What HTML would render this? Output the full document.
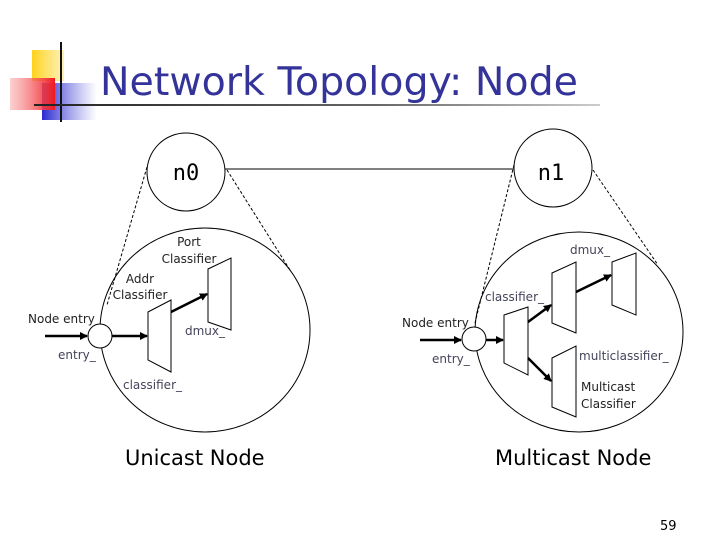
<!DOCTYPE html>
<html><head><meta charset="utf-8"><style>
body{margin:0;background:#fff;}
svg{display:block;}
text{font-family:"DejaVu Sans","Liberation Sans",sans-serif;}
</style></head><body>
<svg width="720" height="540" viewBox="0 0 720 540" xmlns="http://www.w3.org/2000/svg">
<defs>
<linearGradient id="yel" x1="0" x2="1"><stop offset="0" stop-color="#ffd21a"/><stop offset="1" stop-color="#ffe680" stop-opacity="0.6"/></linearGradient>
<linearGradient id="red" x1="1" x2="0"><stop offset="0" stop-color="#f01820"/><stop offset="1" stop-color="#f8a0a0" stop-opacity="0.5"/></linearGradient>
<linearGradient id="blu" x1="0" x2="1"><stop offset="0" stop-color="#2a2ad0"/><stop offset="1" stop-color="#6060e0" stop-opacity="0"/></linearGradient>
<linearGradient id="ln" x1="0" x2="1"><stop offset="0" stop-color="#222"/><stop offset="0.6" stop-color="#666"/><stop offset="1" stop-color="#ccc"/></linearGradient>
<marker id="ar" markerWidth="8" markerHeight="8" refX="7" refY="4" orient="auto" markerUnits="userSpaceOnUse"><path d="M0,0 L8,4 L0,8 z" fill="#000"/></marker>
</defs>
<rect x="32" y="50" width="32" height="31" fill="url(#yel)"/>
<rect x="42" y="83" width="55" height="37" fill="url(#blu)"/>
<rect x="10" y="78" width="45" height="32" fill="url(#red)"/>
<line x1="61" y1="42" x2="61" y2="122" stroke="#111" stroke-width="2"/>
<rect x="34" y="104" width="566" height="2" fill="url(#ln)"/>
<text x="100" y="95" font-size="39.5" fill="#333399">Network Topology: Node</text>

<g fill="none" stroke="#000" stroke-width="1">
<circle cx="186" cy="172" r="39"/>
<circle cx="553" cy="168" r="39"/>
<line x1="225" y1="169" x2="514" y2="169"/>
<ellipse cx="205" cy="330" rx="105" ry="102"/>
<ellipse cx="579" cy="332" rx="104" ry="100"/>
<g stroke-dasharray="3,2">
<line x1="147" y1="167" x2="107" y2="305"/>
<line x1="227" y1="170" x2="290" y2="270"/>
<line x1="514" y1="165" x2="475" y2="323"/>
<line x1="593" y1="170" x2="658" y2="265"/>
</g>
</g>
<g fill="#fff" stroke="#000" stroke-width="1">
<circle cx="100" cy="336" r="12"/>
<polygon points="148,312 171,300 171,372 148,360"/>
<polygon points="208,269 231,258 231,330 208,322"/>
<circle cx="474" cy="339" r="12"/>
<polygon points="504,315 528,307 528,375 504,363"/>
<polygon points="552,273 576,262 576,333 552,323"/>
<polygon points="612,262 636,253 636,315 612,305"/>
<polygon points="552,358 576,346 576,417 552,407"/>
</g>
<g stroke="#000" stroke-width="2.5" marker-end="url(#ar)">
<line x1="45" y1="336" x2="87" y2="336"/>
<line x1="112" y1="336" x2="147" y2="336"/>
<line x1="171" y1="312" x2="207" y2="294"/>
<line x1="420" y1="340" x2="461" y2="340"/>
<line x1="486" y1="340" x2="503" y2="340"/>
<line x1="528" y1="322" x2="551" y2="305"/>
<line x1="576" y1="292" x2="611" y2="275"/>
<line x1="528" y1="358" x2="551" y2="381"/>
</g>
<g font-size="12">
<text x="189" y="246" text-anchor="middle" fill="#222">Port</text>
<text x="189" y="263" text-anchor="middle" fill="#222">Classifier</text>
<text x="140" y="283" text-anchor="middle" fill="#222">Addr</text>
<text x="140" y="299" text-anchor="middle" fill="#222">Classifier</text>
<text x="28" y="323" fill="#222">Node entry</text>
<text x="185" y="335" fill="#44445a">dmux_</text>
<text x="58" y="359" fill="#44445a">entry_</text>
<text x="123" y="389" fill="#44445a">classifier_</text>
<text x="570" y="254" fill="#44445a">dmux_</text>
<text x="485" y="301" fill="#44445a">classifier_</text>
<text x="402" y="327" fill="#222">Node entry</text>
<text x="432" y="363" fill="#44445a">entry_</text>
<text x="579" y="360" fill="#44445a">multiclassifier_</text>
<text x="581" y="391" fill="#222">Multicast</text>
<text x="581" y="408" fill="#222">Classifier</text>
</g>
<text x="186" y="180" font-size="22" text-anchor="middle" style="font-family:'DejaVu Sans Mono',monospace">n0</text>
<text x="551" y="180" font-size="22" text-anchor="middle" style="font-family:'DejaVu Sans Mono',monospace">n1</text>
<text x="125" y="465" font-size="21">Unicast Node</text>
<text x="495" y="465" font-size="21">Multicast Node</text>
<text x="660" y="530" font-size="13">59</text>
</svg>
</body></html>
